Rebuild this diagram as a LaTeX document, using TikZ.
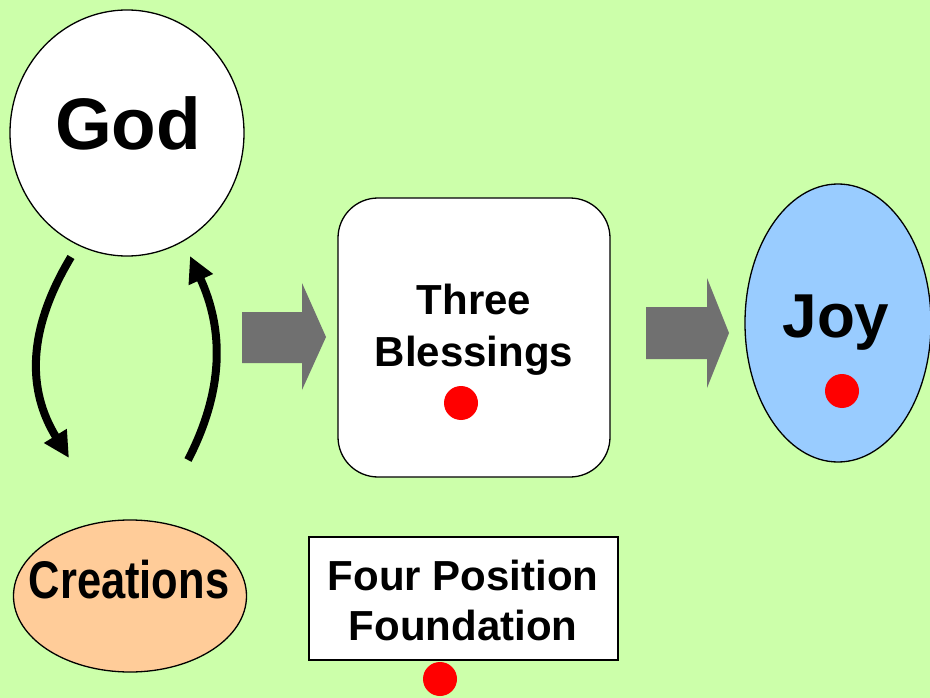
\documentclass[tikz,border=0pt]{standalone}
\usepackage{fontspec}
\setmainfont{Liberation Sans}
\usetikzlibrary{shapes.geometric,arrows.meta}
\definecolor{bg}{RGB}{204,255,170}
\definecolor{peach}{RGB}{255,204,153}
\definecolor{skyblue}{RGB}{153,204,255}
\definecolor{arrowgray}{RGB}{112,112,112}
\begin{document}
\begin{tikzpicture}[x=1pt,y=-1pt,
  shapeline/.style={draw=black,line width=1.3pt},
  oval/.style={shapeline,ellipse,inner sep=0pt},
  lbl/.style={font=\bfseries,anchor=base,inner sep=0pt},
  dot/.style={circle,fill=red,minimum size=34pt,inner sep=0pt},
  blockarrow/.style={fill=arrowgray},
  curvearrow/.style={line width=8pt,-{Triangle[length=26pt,width=25pt]}}]
\fill[bg] (0,0) rectangle (930,698);
\useasboundingbox (0,0) rectangle (930,698);

% God
\node[oval,fill=white,minimum width=234pt,minimum height=246pt] (god) at (127,133) {};
\node[lbl,font=\bfseries\fontsize{73}{80}\selectfont] (godtext) at (128,150) {God};

% Creations
\node[oval,fill=peach,minimum width=233pt,minimum height=152pt] (creations) at (130,596) {};
\node[lbl,font=\bfseries\fontsize{53}{60}\selectfont] (creationstext) at (129,598) {\scalebox{0.82}[1]{Creations}};

% Three Blessings
\node[shapeline,fill=white,rounded corners=40pt,minimum width=272pt,minimum height=279pt,inner sep=0pt] (blessings) at (474,337.5) {};
\node[lbl,font=\bfseries\fontsize{42}{52}\selectfont] (three) at (474,314) {Three};
\node[lbl,font=\bfseries\fontsize{42}{52}\selectfont] (bless) at (474,366) {Blessings};
\node[dot] (dotb) at (461,403) {};

% Joy
\node[oval,fill=skyblue,minimum width=186pt,minimum height=278pt] (joy) at (838,323) {};
\node[lbl,font=\bfseries\fontsize{62}{70}\selectfont] (joytext) at (836,337) {Joy};
\node[dot] (dotj) at (842,391) {};

% Four Position Foundation
\node[shapeline,fill=white,minimum width=309pt,minimum height=123pt,inner sep=0pt] (fpf) at (463.5,598.5) {};
\node[lbl,font=\bfseries\fontsize{42}{50}\selectfont] (four) at (463,590) {Four Position};
\node[lbl,font=\bfseries\fontsize{42}{50}\selectfont] (found) at (463,640) {Foundation};
\node[dot] (dotf) at (440,679) {};

% Gray block arrows
\fill[blockarrow] (242,312) -- (302,312) -- (302,283) -- (326,337) -- (302,390) -- (302,363) -- (242,363) -- cycle;
\fill[blockarrow] (646,307) -- (707,307) -- (707,278) -- (729,333) -- (707,388) -- (707,359) -- (646,359) -- cycle;

% Curved arrows
\coordinate (gl) at (71,257);
\coordinate (cl) at (69,458);
\coordinate (cr) at (188,460);
\coordinate (gr) at (190,256);
\draw[curvearrow] (gl) .. controls (27,330) and (27,390) .. (cl);
\draw[curvearrow] (cr) .. controls (224,390) and (224,330) .. (gr);
\end{tikzpicture}
\end{document}
